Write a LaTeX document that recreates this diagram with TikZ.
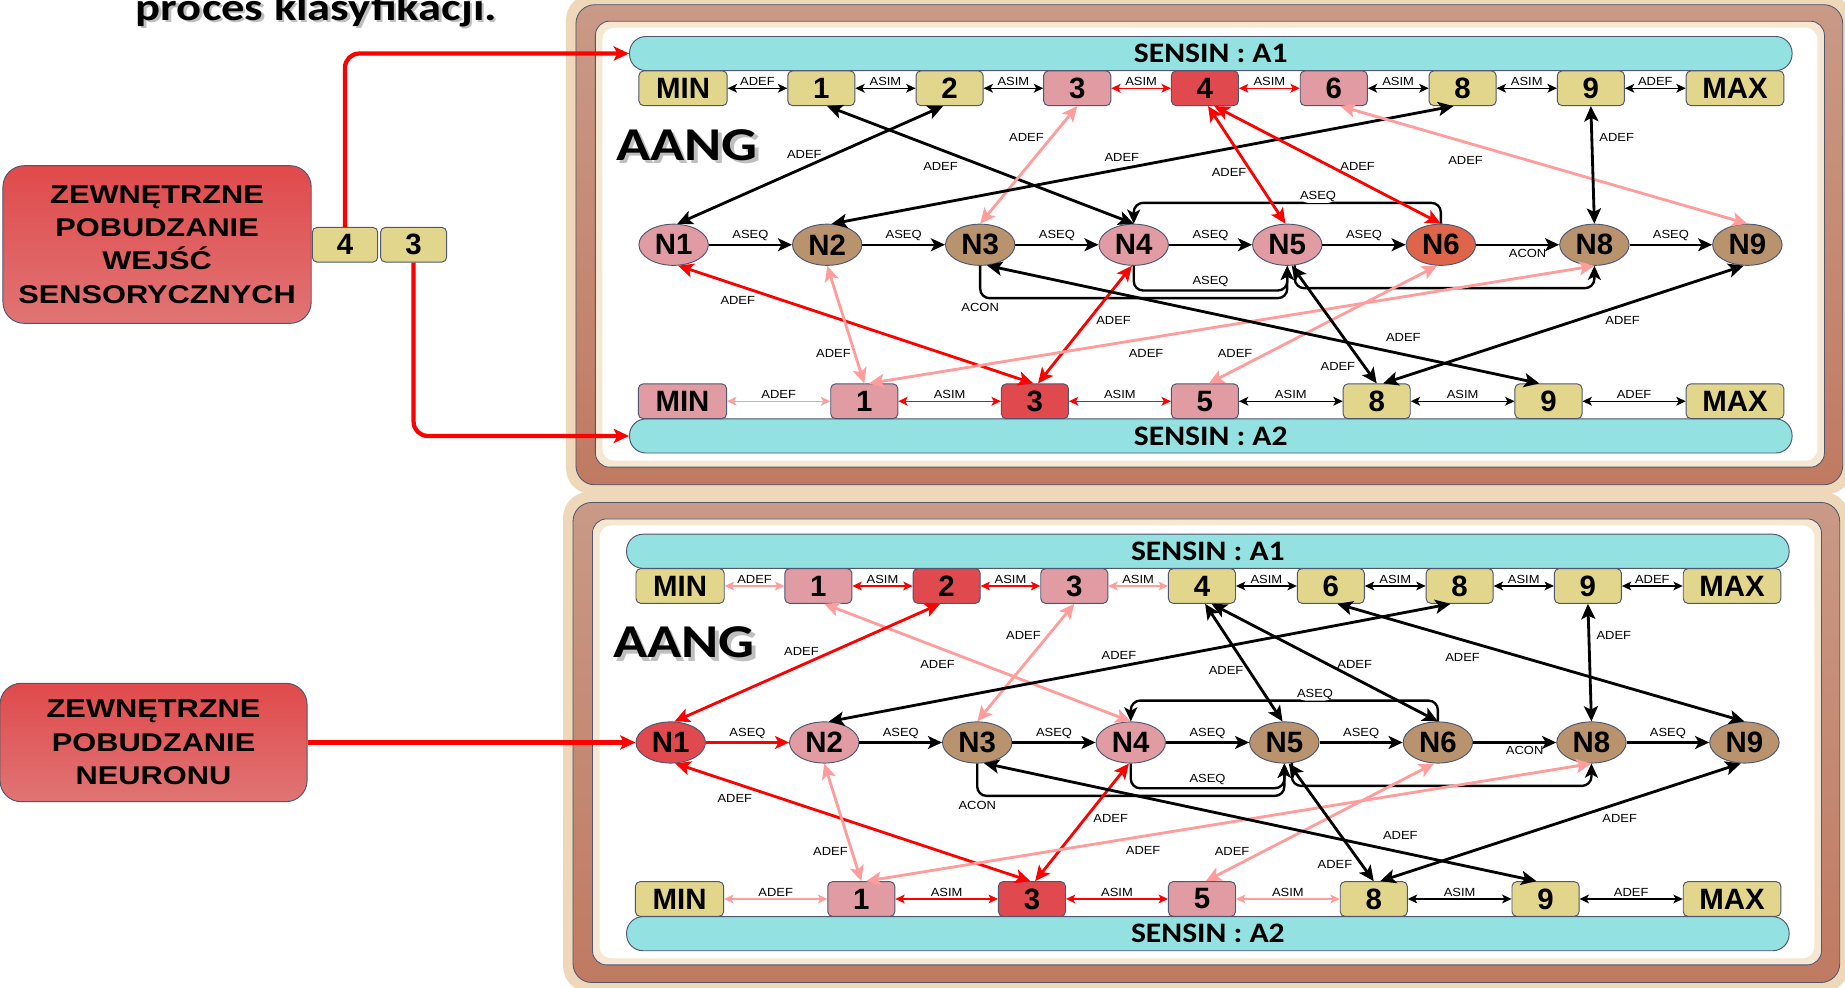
\documentclass[tikz,border=0pt]{standalone}
\usepackage{fontspec}
\setmainfont{Liberation Sans}
\newfontfamily\carl{Carlito}[FakeStretch=1.2]
\newfontfamily\carls{Carlito}[FakeStretch=1.12]
\newfontfamily\ls{Liberation Sans}[FakeStretch=1.2]
\newfontfamily\lsl{Liberation Sans}[FakeStretch=1.1]
\usetikzlibrary{shapes.geometric,arrows.meta,calc}

\definecolor{yel}{HTML}{E1D68C}
\definecolor{pnk}{HTML}{E09CA2}
\definecolor{rbox}{HTML}{E04A4E}
\definecolor{brn}{HTML}{B8936D}
\definecolor{orn}{HTML}{DE644A}
\definecolor{cyanb}{HTML}{93E1E1}
\definecolor{outl}{HTML}{4E5670}
\definecolor{lred}{HTML}{FF9C9C}
\definecolor{browna}{HTML}{C99A86}
\definecolor{brownb}{HTML}{C07A62}
\definecolor{glow}{HTML}{EFD8BA}
\definecolor{cream}{HTML}{F6E7D2}
\definecolor{rtop}{HTML}{E04A4C}
\definecolor{rbot}{HTML}{E07474}

\tikzset{
  tipS/.tip={Stealth[length=8pt,width=7.5pt,inset=2pt]},
  tipM/.tip={Stealth[length=12pt,width=11pt,inset=3pt]},
  tipL/.tip={Stealth[length=13pt,width=12pt,inset=3pt]},
  box/.style={draw=outl, line width=0.8pt, rounded corners=4pt, minimum width=57pt, minimum height=29.5pt, inner sep=0pt, font=\fontsize{25}{25}\selectfont\bfseries},
  neur/.style={ellipse, draw=outl, line width=0.8pt, minimum width=59pt, minimum height=35pt, inner sep=0pt, font=\fontsize{25}{25}\selectfont\bfseries},
  sens/.style={draw=outl, line width=0.8pt, fill=cyanb, rounded corners=14pt, minimum width=988pt, minimum height=29pt, inner sep=0pt, font=\carls\bfseries\fontsize{24}{24}\selectfont},
  lab/.style={font=\lsl\fontsize{10}{10}\selectfont, inner sep=1pt, text=black},
  rowarr/.style={line width=1.1pt, arrows={tipS-tipS}},
  nar/.style={line width=2pt, arrows={-tipM}},
  adef/.style={line width=2.4pt, arrows={tipL-tipL}},
  redarr/.style={line width=3.6pt, color=red, arrows={-tipL}, rounded corners=12pt},
  redbox/.style={draw=outl, line width=0.8pt, rounded corners=18pt, top color=rtop, bottom color=rbot, align=center, inner sep=0pt, font=\ls\bfseries\fontsize{21.8}{28.4}\selectfont},
}

\newcommand\drawpanel{%
  \fill[glow, rounded corners=22pt] (481,-5) rectangle (1574,420);
  \draw[outl, line width=0.7pt, top color=browna, bottom color=brownb, rounded corners=16pt] (489.5,4) rectangle (1566,412);
  \draw[outl, line width=0.7pt, fill=cream, rounded corners=12pt] (506,18) rectangle (1550.5,397);
  \fill[white, rounded corners=10pt] (512,23.5) rectangle (1544.5,391.5);
  \node[sens] (s1) at (1029,45.5) {SENSIN : A1};
  \node[sens] (s2) at (1029,370.5) {SENSIN : A2};
  \node[anchor=base west, text=black!50, opacity=0.5, font=\carl\bfseries\fontsize{40}{40}\selectfont] (aangs) at (523,139) {AANG};
  \node[anchor=base west, font=\carl\bfseries\fontsize{40}{40}\selectfont] (aang) at (520,136) {AANG};
  % A1 row
  \node[box, fill=fA1min, minimum width=75pt] (a1-min) at (580.5,75) {MIN};
  \node[box, fill=fA11] (a1-1) at (698,75) {1};
  \node[box, fill=fA12] (a1-2) at (807,75) {2};
  \node[box, fill=fA13] (a1-3) at (915.5,75) {3};
  \node[box, fill=fA14] (a1-4) at (1024,75) {4};
  \node[box, fill=fA16] (a1-6) at (1133.5,75) {6};
  \node[box, fill=fA18] (a1-8) at (1243,75) {8};
  \node[box, fill=fA19] (a1-9) at (1352,75) {9};
  \node[box, fill=fA1max, minimum width=83pt] (a1-max) at (1474.5,75) {MAX};
  % neurons
  \node[neur, fill=fN1] (n1) at (572.5,208) {N1};
  \node[neur, fill=fN2] (n2) at (703,208) {N2};
  \node[neur, fill=fN3] (n3) at (833,208) {N3};
  \node[neur, fill=fN4] (n4) at (963.5,208) {N4};
  \node[neur, fill=fN5] (n5) at (1094,208) {N5};
  \node[neur, fill=fN6] (n6) at (1224.5,208) {N6};
  \node[neur, fill=fN8] (n8) at (1355,208) {N8};
  \node[neur, fill=fN9] (n9) at (1485,208) {N9};
  % A2 row
  \node[box, fill=fA2min, minimum width=75pt] (a2-min) at (580,341) {MIN};
  \node[box, fill=fA21] (a2-1) at (734.5,341) {1};
  \node[box, fill=fA23] (a2-3) at (879.5,341) {3};
  \node[box, fill=fA25] (a2-5) at (1024,341) {5};
  \node[box, fill=fA28] (a2-8) at (1170,341) {8};
  \node[box, fill=fA29] (a2-9) at (1316,341) {9};
  \node[box, fill=fA2max, minimum width=83pt] (a2-max) at (1474.5,341) {MAX};
  % A1 row links
  \draw[rowarr, color=eA1a] (a1-min) -- node[lab, above=0.5pt]{ADEF} (a1-1);
  \draw[rowarr, color=eA1b] (a1-1) -- node[lab, above=0.5pt]{ASIM} (a1-2);
  \draw[rowarr, color=eA1c] (a1-2) -- node[lab, above=0.5pt]{ASIM} (a1-3);
  \draw[rowarr, color=eA1d] (a1-3) -- node[lab, above=0.5pt]{ASIM} (a1-4);
  \draw[rowarr, color=eA1e] (a1-4) -- node[lab, above=0.5pt]{ASIM} (a1-6);
  \draw[rowarr, color=eA1f] (a1-6) -- node[lab, above=0.5pt]{ASIM} (a1-8);
  \draw[rowarr, color=eA1g] (a1-8) -- node[lab, above=0.5pt]{ASIM} (a1-9);
  \draw[rowarr, color=eA1h] (a1-9) -- node[lab, above=0.5pt]{ADEF} (a1-max);
  % A2 row links
  \draw[rowarr, color=eA2a] (a2-min) -- node[lab, above=0.5pt]{ADEF} (a2-1);
  \draw[rowarr, color=eA2b] (a2-1) -- node[lab, above=0.5pt]{ASIM} (a2-3);
  \draw[rowarr, color=eA2c] (a2-3) -- node[lab, above=0.5pt]{ASIM} (a2-5);
  \draw[rowarr, color=eA2d] (a2-5) -- node[lab, above=0.5pt]{ASIM} (a2-8);
  \draw[rowarr, color=eA2e] (a2-8) -- node[lab, above=0.5pt]{ASIM} (a2-9);
  \draw[rowarr, color=eA2f] (a2-9) -- node[lab, above=0.5pt]{ADEF} (a2-max);
  % neuron chain
  \draw[nar, color=eN12] (n1) -- node[lab, above=1.5pt]{ASEQ} (n2);
  \draw[nar] (n2) -- node[lab, above=1.5pt]{ASEQ} (n3);
  \draw[nar] (n3) -- node[lab, above=1.5pt]{ASEQ} (n4);
  \draw[nar] (n4) -- node[lab, above=1.5pt]{ASEQ} (n5);
  \draw[nar] (n5) -- node[lab, above=1.5pt]{ASEQ} (n6);
  \draw[nar] (n6) -- node[lab, below=1.5pt, pos=0.62]{ACON} (n8);
  \draw[nar] (n8) -- node[lab, above=1.5pt]{ASEQ} (n9);
  % loops
  \draw[nar, rounded corners=8pt] (n6.north) -- ++(0,-17.7) -| node[lab, fill=white, above=-1pt, pos=0.2]{ASEQ} (n4.north);
  \draw[nar, rounded corners=8pt] (n4.south) -- ++(0,21) -| node[lab, above=1pt, pos=0.25]{ASEQ} (n5.south);
  \draw[nar, rounded corners=8pt] (n3.south) -- ++(0,27.5) node[lab, below=2.5pt]{ACON} -| (n5.south);
  \draw[nar, rounded corners=8pt] (n5.-70) |- ([yshift=-19pt]n8.south) -- (n8.south);
  % ADEF links
  \draw[adef, color=cE1] (a1-1.-72) -- (n4.north);
  \draw[adef, color=cE2] (a1-2.-110) -- (n1.80);
  \draw[adef, color=cE3] (a1-3.south) -- (n3.north);
  \draw[adef, color=cE4] (a1-8.-117) -- (n2.78);
  \draw[adef, color=cE5] (a1-4.-80) -- (n5.95);
  \draw[adef, color=cE6] (a1-4.-62) -- (n6.north);
  \draw[adef, color=cE7] (a1-6.-70) -- (n9.north);
  \draw[adef, color=cE8] (a1-9.south) -- (n8.north);
  \draw[adef, color=cE9] (n1.-78) -- (a2-3.95);
  \draw[adef, color=cE10] (n2.south) -- (a2-1.north);
  \draw[adef, color=cE11] (n4.-95) -- (a2-3.80);
  \draw[adef, color=cE12] (n8.south) -- (a2-1.75);
  \draw[adef, color=cE13] (n6.-100) -- (a2-5.78);
  \draw[adef, color=cE14] (n5.-78) -- (a2-8.north);
  \draw[adef, color=cE15] (n9.-100) -- (a2-8.70);
  \draw[adef, color=cE16] (n3.-72) -- (a2-9.117);
  % ADEF labels
  \node[lab] (l1) at (799.3,141.6) {ADEF};
  \node[lab] (l2) at (683.6,130.9) {ADEF};
  \node[lab] (l3) at (872.3,117) {ADEF};
  \node[lab] (l4) at (953.4,134) {ADEF};
  \node[lab] (l5) at (1044.5,146.8) {ADEF};
  \node[lab] (l6) at (1153.8,141.6) {ADEF};
  \node[lab] (l7) at (1245.5,136) {ADEF};
  \node[lab] (l8) at (1374,117) {ADEF};
  \node[lab] (l9) at (627,255.5) {ADEF};
  \node[lab] (l10) at (708.3,300.8) {ADEF};
  \node[lab] (l11) at (946.4,272.5) {ADEF};
  \node[lab] (l12) at (974,300) {ADEF};
  \node[lab] (l13) at (1049.6,300.8) {ADEF};
  \node[lab] (l14) at (1137,311.6) {ADEF};
  \node[lab] (l15) at (1379,272.5) {ADEF};
  \node[lab] (l16) at (1192.6,287) {ADEF};
}

\begin{document}
\begin{tikzpicture}[x=1pt,y=-1pt]
\useasboundingbox (0,0) rectangle (1568,839);

% ---- top panel colours
\colorlet{fA1min}{yel}\colorlet{fA11}{yel}\colorlet{fA12}{yel}\colorlet{fA13}{pnk}\colorlet{fA14}{rbox}
\colorlet{fA16}{pnk}\colorlet{fA18}{yel}\colorlet{fA19}{yel}\colorlet{fA1max}{yel}
\colorlet{fN1}{pnk}\colorlet{fN2}{brn}\colorlet{fN3}{brn}\colorlet{fN4}{pnk}\colorlet{fN5}{pnk}
\colorlet{fN6}{orn}\colorlet{fN8}{brn}\colorlet{fN9}{brn}
\colorlet{fA2min}{pnk}\colorlet{fA21}{pnk}\colorlet{fA23}{rbox}\colorlet{fA25}{pnk}\colorlet{fA28}{yel}
\colorlet{fA29}{yel}\colorlet{fA2max}{yel}
\colorlet{eA1a}{black}\colorlet{eA1b}{black}\colorlet{eA1c}{black}\colorlet{eA1d}{red}\colorlet{eA1e}{red}
\colorlet{eA1f}{black}\colorlet{eA1g}{black}\colorlet{eA1h}{black}
\colorlet{eA2a}{lred}\colorlet{eA2b}{red}\colorlet{eA2c}{red}\colorlet{eA2d}{black}\colorlet{eA2e}{black}\colorlet{eA2f}{black}
\colorlet{eN12}{black}
\colorlet{cE1}{black}\colorlet{cE2}{black}\colorlet{cE3}{lred}\colorlet{cE4}{black}\colorlet{cE5}{red}
\colorlet{cE6}{red}\colorlet{cE7}{lred}\colorlet{cE8}{black}\colorlet{cE9}{red}\colorlet{cE10}{lred}
\colorlet{cE11}{red}\colorlet{cE12}{lred}\colorlet{cE13}{lred}\colorlet{cE14}{black}\colorlet{cE15}{black}\colorlet{cE16}{black}
\begin{scope}[name prefix=t-]
\drawpanel
\end{scope}

% ---- bottom panel colours
\colorlet{fA1min}{yel}\colorlet{fA11}{pnk}\colorlet{fA12}{rbox}\colorlet{fA13}{pnk}\colorlet{fA14}{yel}
\colorlet{fA16}{yel}\colorlet{fA18}{yel}\colorlet{fA19}{yel}\colorlet{fA1max}{yel}
\colorlet{fN1}{rbox}\colorlet{fN2}{pnk}\colorlet{fN3}{brn}\colorlet{fN4}{pnk}\colorlet{fN5}{brn}
\colorlet{fN6}{brn}\colorlet{fN8}{brn}\colorlet{fN9}{brn}
\colorlet{fA2min}{yel}\colorlet{fA21}{pnk}\colorlet{fA23}{rbox}\colorlet{fA25}{pnk}\colorlet{fA28}{yel}
\colorlet{fA29}{yel}\colorlet{fA2max}{yel}
\colorlet{eA1a}{lred}\colorlet{eA1b}{red}\colorlet{eA1c}{red}\colorlet{eA1d}{lred}\colorlet{eA1e}{black}
\colorlet{eA1f}{black}\colorlet{eA1g}{black}\colorlet{eA1h}{black}
\colorlet{eA2a}{lred}\colorlet{eA2b}{red}\colorlet{eA2c}{red}\colorlet{eA2d}{lred}\colorlet{eA2e}{black}\colorlet{eA2f}{black}
\colorlet{eN12}{red}
\colorlet{cE1}{lred}\colorlet{cE2}{red}\colorlet{cE3}{lred}\colorlet{cE4}{black}\colorlet{cE5}{black}
\colorlet{cE6}{black}\colorlet{cE7}{black}\colorlet{cE8}{black}\colorlet{cE9}{red}\colorlet{cE10}{lred}
\colorlet{cE11}{red}\colorlet{cE12}{lred}\colorlet{cE13}{lred}\colorlet{cE14}{black}\colorlet{cE15}{black}\colorlet{cE16}{black}
\begin{scope}[shift={(-2.5,423)}, name prefix=b-]
\drawpanel
\end{scope}

% ---- title
\node[anchor=base west, text=black!50, opacity=0.5, font=\carl\bfseries\fontsize{33}{33}\selectfont] (titles) at (114,19.5) {proces klasyfikacji.};
\node[anchor=base west, font=\carl\bfseries\fontsize{33}{33}\selectfont] (title) at (112,17) {proces klasyfikacji.};

% ---- left inputs
\node[redbox, minimum width=262pt, minimum height=134pt] (ext1) at (133.5,207.8) {ZEWNĘTRZNE\\POBUDZANIE\\WEJŚĆ\\SENSORYCZNYCH};
\node[box, fill=yel, minimum width=55.5pt] (in4) at (293.2,208) {4};
\node[box, fill=yel, minimum width=56pt] (in3) at (351.5,208) {3};
\draw[redarr] (in4.north) |- (t-s1.west);
\draw[redarr] (in3.south) |- (t-s2.west);

\node[redbox, minimum width=261pt, minimum height=100.6pt] (ext2) at (130.5,631) {ZEWNĘTRZNE\\POBUDZANIE\\NEURONU};
\draw[redarr] (ext2.east) -- (b-n1.west);
\end{tikzpicture}
\end{document}
